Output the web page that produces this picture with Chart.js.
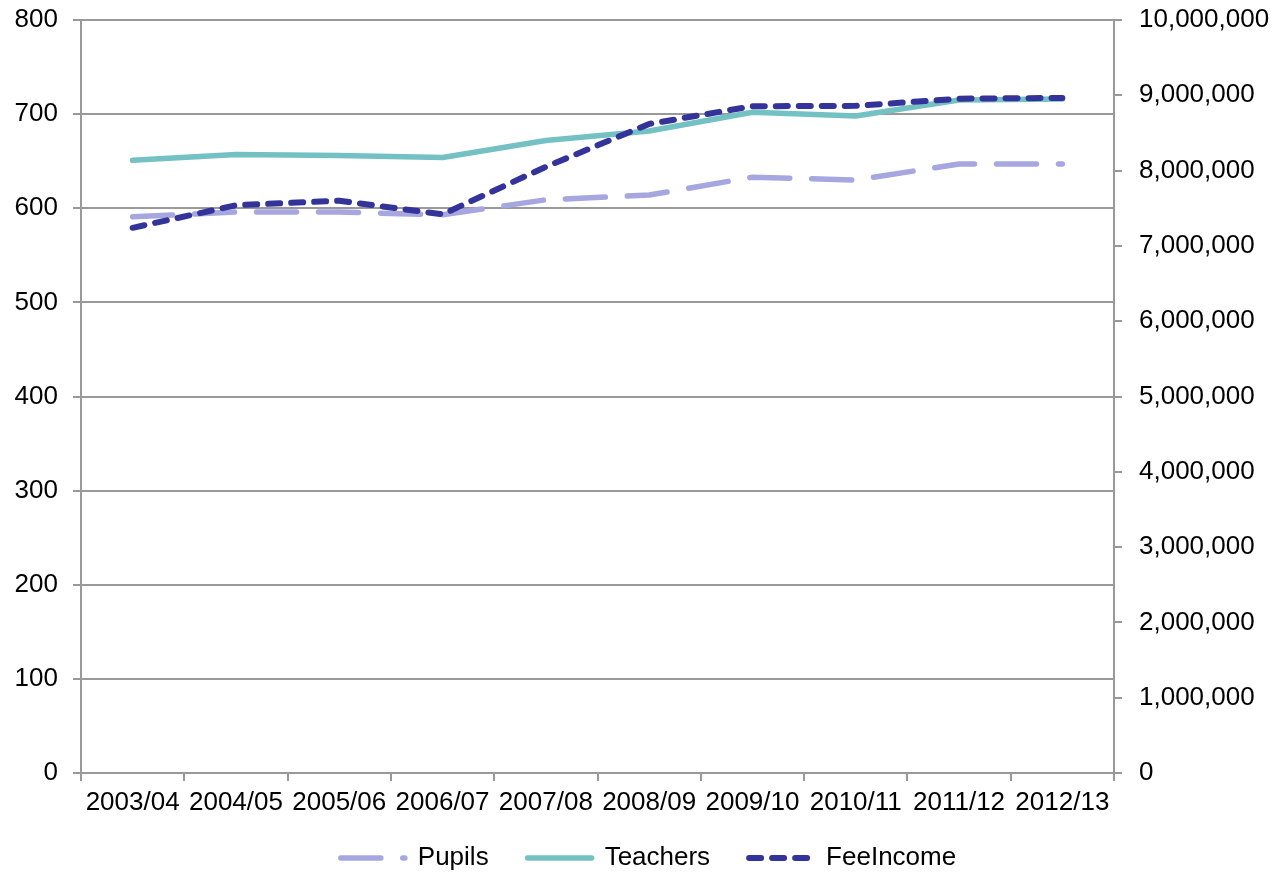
<!DOCTYPE html>
<html>
<head>
<meta charset="utf-8">
<script src="https://cdn.jsdelivr.net/npm/chart.js@4/dist/chart.umd.min.js"></script>
<style>
  html, body { margin: 0; padding: 0; background: #ffffff; }
  #wrap { width: 1278px; height: 873px; }
</style>
</head>
<body>
<div id="wrap"><canvas id="c" width="1278" height="873"></canvas></div>
<script>
// School years on the category axis
const categories = ['2003/04', '2004/05', '2005/06', '2006/07', '2007/08',
                    '2008/09', '2009/10', '2010/11', '2011/12', '2012/13'];

// Head counts (left axis)
const pupils   = [591, 596, 596, 593, 609, 614, 633, 630, 647, 647];
const teachers = [651, 657, 656, 654, 672, 682, 702, 698, 715, 716];

// Fee income (right axis)
const feeIncome = [7240000, 7540000, 7600000, 7420000, 8050000,
                   8620000, 8855000, 8860000, 8955000, 8965000];

// Axis ranges and steps
const leftTicks  = { min: 0, max: 800, step: 100 };
const rightTicks = { min: 0, max: 10000000, step: 1000000 };

const FONT = "'Liberation Sans', Arial, sans-serif";
const FONT_SIZE = 26;
const AXIS_GREY = '#999999';

const seriesStyle = {
  Pupils:    { color: '#A6A6E0', width: 5.5, dash: [40, 22] },
  Teachers:  { color: '#74C1C4', width: 5.5, dash: [] },
  FeeIncome: { color: '#333399', width: 6, dash: [12, 11] }
};

// Legend drawn with line samples that carry each series' dash pattern
const lineLegend = {
  id: 'lineLegend',
  afterDraw(chart) {
    const ctx = chart.ctx;
    const names = ['Pupils', 'Teachers', 'FeeIncome'];
    const sampleLen = 70, textGap = 10, itemGap = 36;
    ctx.save();
    ctx.font = FONT_SIZE + 'px ' + FONT;
    const widths = names.map(n => sampleLen + textGap + ctx.measureText(n).width);
    const total = widths.reduce((a, b) => a + b, 0) + itemGap * (names.length - 1);
    let x = chart.width / 2 + 8 - total / 2;
    const y = 858;
    names.forEach((n, i) => {
      const st = seriesStyle[n];
      ctx.beginPath();
      ctx.strokeStyle = st.color;
      ctx.lineWidth = st.width;
      ctx.lineCap = 'round';
      ctx.setLineDash(st.dash);
      ctx.moveTo(x + 3, y);
      ctx.lineTo(x + sampleLen - 3, y);
      ctx.stroke();
      ctx.setLineDash([]);
      ctx.fillStyle = '#000000';
      ctx.textAlign = 'left';
      ctx.textBaseline = 'middle';
      ctx.fillText(n, x + sampleLen + textGap, y);
      x += widths[i] + itemGap;
    });
    ctx.restore();
  }
};

function withCommas(v) {
  return Math.round(v).toString().replace(/\B(?=(\d{3})+(?!\d))/g, ',');
}

// Fixed axis band widths; the end labels may overhang the plot edges
function fixVertical(width) {
  return s => { s.width = width; s.paddingTop = 0; s.paddingBottom = 0; };
}

new Chart(document.getElementById('c'), {
  type: 'line',
  data: {
    labels: categories,
    datasets: [
      {
        label: 'Pupils', data: pupils, yAxisID: 'y', order: 3,
        borderColor: seriesStyle.Pupils.color, borderWidth: seriesStyle.Pupils.width,
        borderDash: seriesStyle.Pupils.dash, borderCapStyle: 'round', borderJoinStyle: 'round',
        pointRadius: 0, fill: false, tension: 0
      },
      {
        label: 'Teachers', data: teachers, yAxisID: 'y', order: 2,
        borderColor: seriesStyle.Teachers.color, borderWidth: seriesStyle.Teachers.width,
        borderCapStyle: 'round', borderJoinStyle: 'round',
        pointRadius: 0, fill: false, tension: 0
      },
      {
        label: 'FeeIncome', data: feeIncome, yAxisID: 'y1', order: 1,
        borderColor: seriesStyle.FeeIncome.color, borderWidth: seriesStyle.FeeIncome.width,
        borderDash: seriesStyle.FeeIncome.dash, borderCapStyle: 'round', borderJoinStyle: 'round',
        pointRadius: 0, fill: false, tension: 0
      }
    ]
  },
  options: {
    responsive: false,
    animation: false,
    devicePixelRatio: 1,
    layout: { padding: { top: 20, left: 0, right: 0, bottom: 0 } },
    plugins: { legend: { display: false }, tooltip: { enabled: false } },
    scales: {
      x: {
        type: 'category',
        offset: true,
        grid: { offset: true, drawOnChartArea: false, color: AXIS_GREY, lineWidth: 2, tickLength: 8 },
        border: { display: true, color: AXIS_GREY, width: 2 },
        ticks: { color: '#000', font: { family: FONT, size: FONT_SIZE }, maxRotation: 0, autoSkip: false, padding: 6 },
        afterFit(s) { s.height = 100; }
      },
      y: {
        position: 'left',
        min: leftTicks.min, max: leftTicks.max,
        grid: { color: AXIS_GREY, lineWidth: 2, tickLength: 8 },
        border: { display: true, color: AXIS_GREY, width: 2 },
        ticks: { stepSize: leftTicks.step, color: '#000', font: { family: FONT, size: FONT_SIZE }, padding: 15 },
        afterFit: fixVertical(81)
      },
      y1: {
        position: 'right',
        min: rightTicks.min, max: rightTicks.max,
        grid: { drawOnChartArea: false, color: AXIS_GREY, lineWidth: 2, tickLength: 8 },
        border: { display: true, color: AXIS_GREY, width: 2 },
        ticks: { stepSize: rightTicks.step, color: '#000', font: { family: FONT, size: FONT_SIZE }, padding: 17,
                 callback: v => withCommas(v) },
        afterFit: fixVertical(164)
      }
    }
  },
  plugins: [lineLegend]
});
</script>
</body>
</html>
